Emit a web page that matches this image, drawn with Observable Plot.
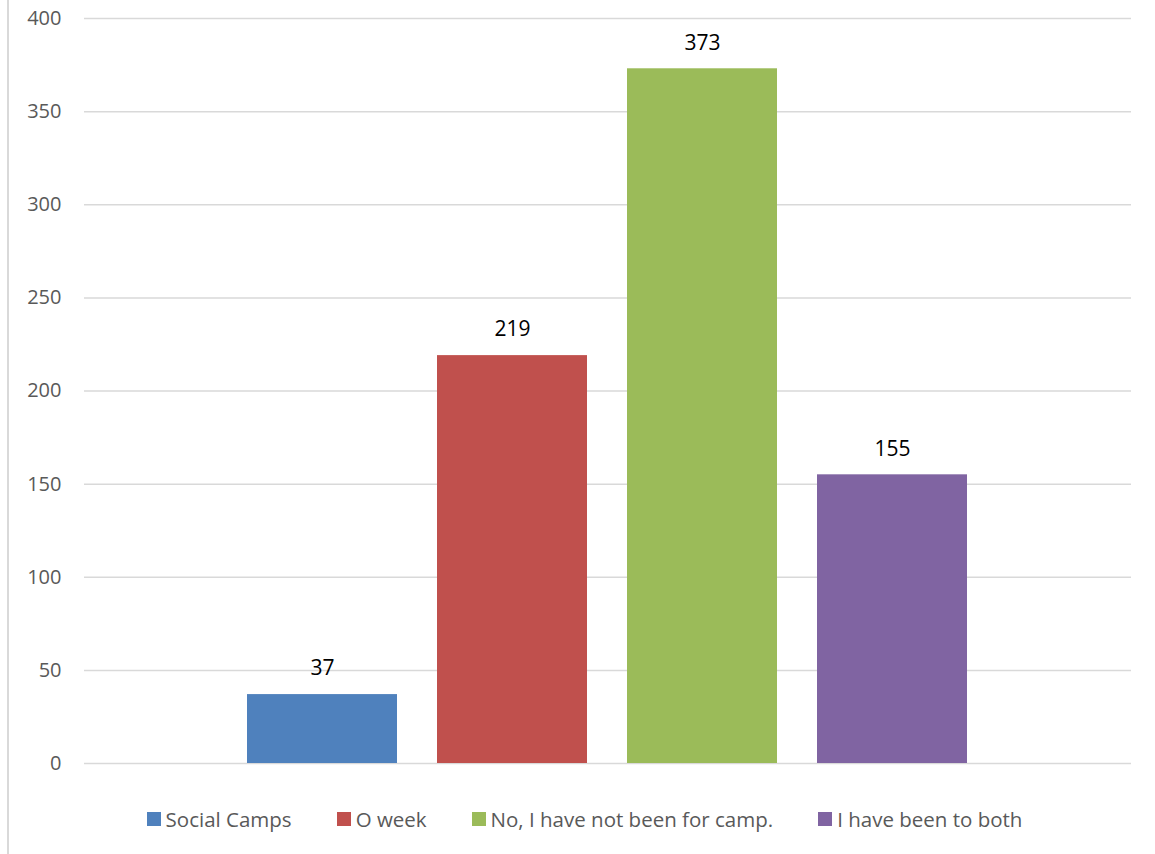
<!DOCTYPE html>
<html>
<head>
<meta charset="utf-8">
<script src="https://cdn.jsdelivr.net/npm/d3@7"></script>
<script src="https://cdn.jsdelivr.net/npm/@observablehq/plot@0.6"></script>
<style>
  html, body { margin: 0; padding: 0; background: #fff; }
  #wrap { position: relative; width: 1155px; height: 854px; font-family: "Open Sans", sans-serif; }
  #border { position: absolute; left: 7px; top: 0; width: 2px; height: 854px; background: #d9d9d9; }
  #legend { position: absolute; left: 0; top: 805px; width: 1155px; display: flex; justify-content: center; gap: 45px; font-size: 20.5px; line-height: 28px; color: #595959; padding-left: 14px; box-sizing: border-box; }
  #legend span.item { display: inline-flex; align-items: center; gap: 5px; white-space: nowrap; }
  #legend span.sw { display: inline-block; width: 14px; height: 14px; }
</style>
</head>
<body>
<div id="wrap">
  <div id="border"></div>
  <div id="chart"></div>
  <div id="legend"></div>
</div>
<script>
const categories = ["Social Camps", "O week", "No, I have not been for camp.", "I have been to both"];
const values = [37, 219, 373, 155];
const colors = ["#4f81bd", "#c0504d", "#9bbb59", "#8064a2"];
const yTicks = [0, 50, 100, 150, 200, 250, 300, 350, 400];

const data = categories.map((c, i) => ({category: c, value: values[i]}));

const chart = Plot.plot({
  width: 1155,
  height: 790,
  marginLeft: 84,
  marginRight: 24,
  marginTop: 18,
  marginBottom: 27,
  style: {fontFamily: "'Open Sans', sans-serif", background: "transparent"},
  x: {domain: categories, range: [247, 967], paddingInner: 40 / 190, paddingOuter: 0, axis: null},
  y: {domain: [0, 400], ticks: yTicks, axis: null},
  color: {domain: categories, range: colors},
  marks: [
    Plot.ruleY(yTicks, {stroke: "#d9d9d9", strokeWidth: 1.5}),
    Plot.barY(data, {x: "category", y: "value", fill: "category"}),
    Plot.text(data, {x: "category", y: "value", text: d => String(d.value), dy: -26, fontSize: 21, fill: "#000", textAnchor: "middle", lineAnchor: "middle"}),
    Plot.text(yTicks, {y: d => d, frameAnchor: "left", dx: -23, text: d => String(d), textAnchor: "end", fontSize: 20, fill: "#595959", lineAnchor: "middle"})
  ]
});
document.getElementById("chart").appendChild(chart);

const legend = document.getElementById("legend");
categories.forEach((c, i) => {
  const item = document.createElement("span");
  item.className = "item";
  const sw = document.createElement("span");
  sw.className = "sw";
  sw.style.background = colors[i];
  const t = document.createElement("span");
  t.textContent = c;
  item.appendChild(sw);
  item.appendChild(t);
  legend.appendChild(item);
});
</script>
</body>
</html>
